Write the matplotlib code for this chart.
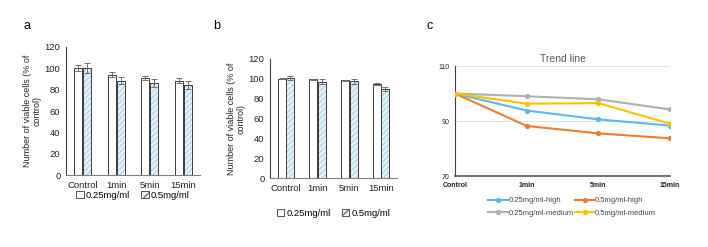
import matplotlib
matplotlib.use("Agg")
import matplotlib.pyplot as plt
import numpy as np
from matplotlib.patches import Patch

plt.rcParams["font.family"] = ["Liberation Sans", "DejaVu Sans"]
plt.rcParams["hatch.linewidth"] = 0.6

categories = ["Control", "1min", "5min", "15min"]

# panel a
a_low = [100.4, 94.1, 91.0, 88.5]
a_low_err = [2.5, 2.3, 2.2, 2.6]
a_high = [100.4, 88.5, 86.0, 84.2]
a_high_err = [4.4, 3.4, 3.9, 3.7]

# panel b
b_low = [100.2, 99.5, 98.5, 95.0]
b_low_err = [0.8, 0.5, 0.5, 1.0]
b_high = [100.5, 97.0, 97.5, 90.0]
b_high_err = [2.0, 2.5, 2.5, 2.0]

# panel c
c_series = {
    "0.25mg/ml-high": [100, 93.8, 90.6, 88.3],
    "0.5mg/ml-high": [100, 88.2, 85.5, 83.7],
    "0.25mg/ml-medium": [100, 99.0, 97.9, 94.2],
    "0.5mg/ml-medium": [100, 96.3, 96.5, 89.0],
}
c_colors = ["#5bb8ea", "#ed7d31", "#a9b3af", "#ffc000"]

W, H = 708, 247
fig = plt.figure(figsize=(W / 100, H / 100), dpi=100)


def rect(x0, y_top, x1, y_bot):
    return [x0 / W, (H - y_bot) / H, (x1 - x0) / W, (y_bot - y_top) / H]


HATCH_FACE = "#e3f1fa"
HATCH_COL = "#9ccbe6"
EDGE = "#3a3a3a"


def bar_panel(ax, low, low_err, high, high_err, legend_y):
    x = np.arange(len(categories))
    w = 0.25
    off = 0.135
    ax.bar(x - off, low, w, color="white", edgecolor=EDGE, linewidth=0.7, zorder=2)
    ax.bar(x + off, high, w, color=HATCH_FACE, edgecolor=HATCH_COL, hatch="//////", linewidth=0, zorder=2)
    ax.bar(x + off, high, w, color="none", edgecolor=EDGE, linewidth=0.7, zorder=3)
    ax.errorbar(x - off, low, yerr=low_err, fmt="none", ecolor="#6e6e6e", elinewidth=0.7, capsize=2.2, capthick=0.7, zorder=4)
    ax.errorbar(x + off, high, yerr=high_err, fmt="none", ecolor="#6e6e6e", elinewidth=0.7, capsize=2.2, capthick=0.7, zorder=4)
    ax.set_xlim(-0.5, 3.5)
    ax.set_ylim(0, 120)
    ax.set_yticks(np.arange(0, 121, 20))
    ax.set_xticks(x)
    ax.set_xticklabels(categories)
    ax.tick_params(axis="both", length=0, labelsize=6.8, colors="#222222", pad=4)
    ax.spines["top"].set_visible(False)
    ax.spines["right"].set_visible(False)
    ax.spines["left"].set_color("#404040")
    ax.spines["bottom"].set_color("#808080")
    ax.spines["left"].set_linewidth(0.8)
    ax.spines["bottom"].set_linewidth(0.8)
    ax.set_ylabel("Number of viable cells (% of\ncontrol)", fontsize=6.5, color="#222222", labelpad=2, linespacing=1.1)
    handles = [
        Patch(facecolor="white", edgecolor=EDGE, linewidth=0.6),
        Patch(facecolor=HATCH_FACE, edgecolor=EDGE, hatch="////", linewidth=0.6),
    ]
    ax.legend(handles, ["0.25mg/ml", "0.5mg/ml"], loc="center", bbox_to_anchor=(0.5, legend_y), ncol=2,
              frameon=False, fontsize=6.8, handlelength=0.8, handleheight=0.8, handletextpad=0.2,
              columnspacing=1.2, borderaxespad=0)


ax_a = fig.add_axes(rect(66, 47, 200, 175))
bar_panel(ax_a, a_low, a_low_err, a_high, a_high_err, (175 - 195) / 128)

ax_b = fig.add_axes(rect(270, 59, 397, 178))
bar_panel(ax_b, b_low, b_low_err, b_high, b_high_err, (178 - 213) / 119)

ax_c = fig.add_axes(rect(455, 66, 670, 176))
xc = np.arange(len(categories))
lines = {}
for (label, vals), col in zip(c_series.items(), c_colors):
    lines[label] = ax_c.plot(xc, vals, color=col, linewidth=1.5, marker="o", markersize=2.8, label=label, zorder=3)[0]
ax_c.set_xlim(0, 3)
ax_c.set_ylim(70, 110)
ax_c.set_yticks([70, 90, 110])
ax_c.set_xticks(xc)
ax_c.set_xticklabels(categories, fontweight="bold")
ax_c.grid(axis="y", color="#e3e3e3", linewidth=0.7)
ax_c.tick_params(axis="both", length=0, labelsize=5, colors="#222222", pad=4)
ax_c.spines["top"].set_visible(False)
ax_c.spines["right"].set_visible(False)
ax_c.spines["left"].set_color("#404040")
ax_c.spines["left"].set_linewidth(0.8)
ax_c.spines["bottom"].set_color("#595959")
ax_c.spines["bottom"].set_linewidth(1.2)
ax_c.set_title("Trend line", fontsize=7.5, color="#595959", pad=3)
# matplotlib fills legend columns first, reorder so rows read high / medium
order = ["0.25mg/ml-high", "0.25mg/ml-medium", "0.5mg/ml-high", "0.5mg/ml-medium"]
ax_c.legend([lines[k] for k in order], order, loc="upper left",
            bbox_to_anchor=((485 - 455) / 215, (176 - 194) / 110), ncol=2, frameon=False,
            fontsize=5.5, handlelength=2.6, handletextpad=0.1, columnspacing=0.1, labelspacing=0.7,
            borderaxespad=0, labelcolor="#444444")

fig.text(27 / W, 1 - 26 / H, "a", fontsize=9, ha="center", va="center")
fig.text(217 / W, 1 - 26 / H, "b", fontsize=9, ha="center", va="center")
fig.text(430 / W, 1 - 26 / H, "c", fontsize=9, ha="center", va="center")

fig.savefig("out.png", dpi=100)
